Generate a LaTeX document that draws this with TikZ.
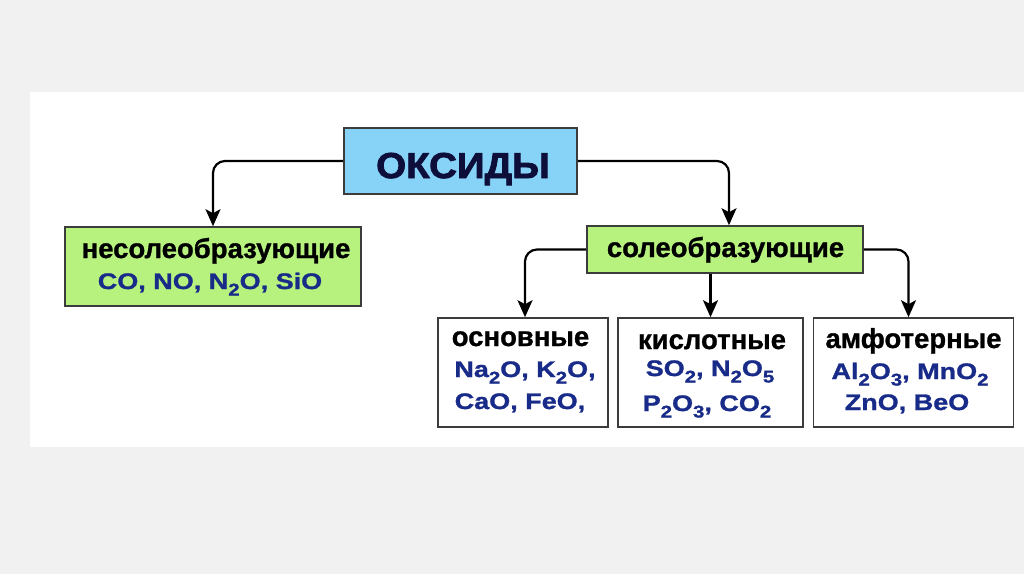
\documentclass[tikz,border=0pt]{standalone}
\usepackage{fontspec}
\setmainfont{Liberation Sans}
\newfontfamily\hdfont{Liberation Sans Bold}[FakeBold=1.0]
\newfontfamily\bluefont{Liberation Sans Bold}[FakeStretch=1.2,FakeBold=1.2]
\newfontfamily\bigfont{Liberation Sans Bold}[FakeStretch=1.07,FakeBold=2.2]
\usetikzlibrary{arrows.meta}
\definecolor{bggray}{HTML}{F1F1F1}
\definecolor{skyb}{HTML}{87D3F7}
\definecolor{grn}{HTML}{B7F27E}
\definecolor{navy}{HTML}{0E0E3A}
\definecolor{txtblue}{HTML}{182B88}
\definecolor{boxgray}{HTML}{3C3C3C}
\newcommand\sbs[1]{\raisebox{-6.5pt}{\fontsize{17}{17}\selectfont #1}}
\tikzset{
  box/.style={draw=boxgray, line width=1.6pt, rectangle, inner sep=0pt},
  conn/.style={draw=black, line width=2.2pt, rounded corners=12pt,
    -{Stealth[length=17pt,width=15pt,inset=4pt]}},
  hd/.style={anchor=base, inner sep=0pt, text=black,
    font=\fontsize{27.5}{30}\hdfont},
  bl/.style={anchor=base, inner sep=0pt, text=txtblue,
    font=\fontsize{22.5}{26}\bluefont},
  big/.style={anchor=base, inner sep=0pt, text=navy,
    font=\fontsize{36}{40}\bigfont}
}
\begin{document}
\begin{tikzpicture}[x=1pt,y=-1pt]
\useasboundingbox (0,0) rectangle (1024,574);
\fill[bggray] (0,0) rectangle (1024,574);
\fill[white] (30,92) rectangle (1024,447);
% boxes
\node[box, fill=skyb, minimum width=233pt, minimum height=66pt] (oks) at (460.5,161) {};
\node[box, fill=grn, minimum width=296pt, minimum height=79pt] (nes) at (213,266.5) {};
\node[box, fill=grn, minimum width=276pt, minimum height=47pt] (sole) at (725,249.5) {};
\node[box, fill=white, minimum width=170pt, minimum height=109pt] (osn) at (523,372.5) {};
\node[box, fill=white, minimum width=185pt, minimum height=109pt] (kisl) at (710.5,372.5) {};
\node[box, fill=white, minimum width=200pt, minimum height=109pt] (amf) at (913.5,372.5) {};
% texts
\node[big] (toks) at (463,178) {ОКСИДЫ};
\node[hd] (tnes) at (216,258) {несолеобразующие};
\node[bl] (tnes2) at (210,289) {CO, NO, N\sbs{2}O, SiO};
\node[hd] (tsole) at (725.5,257) {солеобразующие};
\node[hd] (tosn) at (520.5,346) {основные};
\node[bl] (tosn2) at (525,377) {Na\sbs{2}O, K\sbs{2}O,};
\node[bl] (tosn3) at (520,409) {CaO, FeO,};
\node[hd] (tkisl) at (712,349) {кислотные};
\node[bl] (tkisl2) at (710,376) {SO\sbs{2}, N\sbs{2}O\sbs{5}};
\node[bl] (tkisl3) at (707,411) {P\sbs{2}O\sbs{3}, CO\sbs{2}};
\node[hd] (tamf) at (913.5,348) {амфотерные};
\node[bl] (tamf2) at (910,379) {Al\sbs{2}O\sbs{3}, MnO\sbs{2}};
\node[bl] (tamf3) at (907,410) {ZnO, BeO};
% connectors
\draw[conn] (oks.west) -| (nes.north);
\draw[conn] (oks.east) -| ([xshift=4pt]sole.north);
\draw[conn] (sole.west) -| ([xshift=2pt]osn.north);
\draw[conn] (sole.south -| kisl.north) -- (kisl.north);
\draw[conn] (sole.east) -| ([xshift=-5pt]amf.north);
\end{tikzpicture}
\end{document}
